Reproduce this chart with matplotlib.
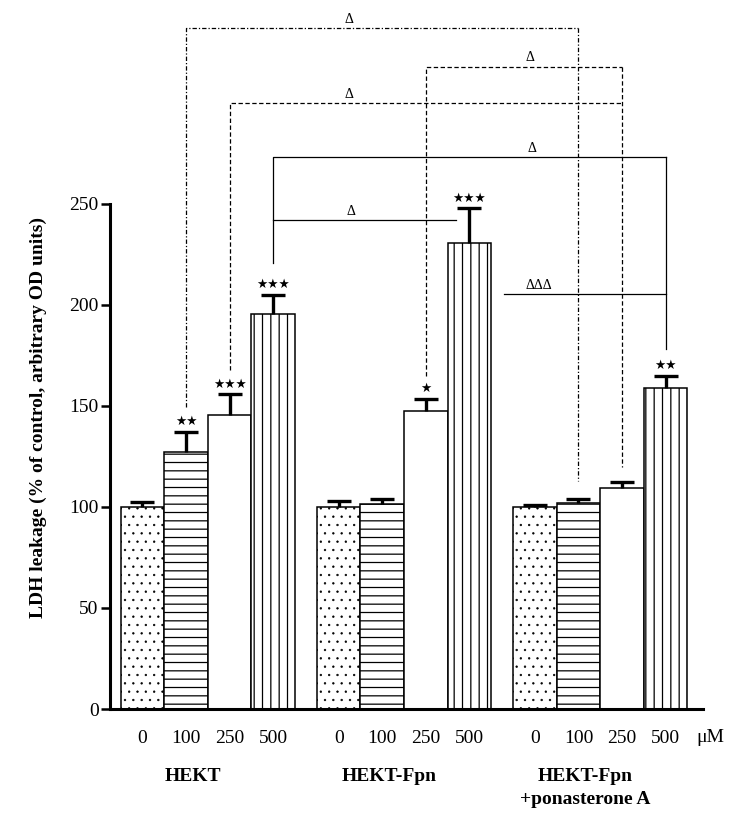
import numpy as np
import matplotlib
matplotlib.use("Agg")
import matplotlib.pyplot as plt

# --- data ---
groups = ["HEKT", "HEKT-Fpn", "HEKT-Fpn\n+ponasterone A"]
doses = ["0", "100", "250", "500"]
ldh_mean = [
    [100, 127.4, 145.7, 195.4],
    [100, 101.3, 147.5, 230.8],
    [100, 102.0, 109.5, 159.0],
]
ldh_sem = [
    [2.7, 9.7, 10.0, 9.7],
    [3.0, 2.8, 6.0, 17.0],
    [1.2, 2.0, 3.0, 6.0],
]
stars = [
    ["", "★★", "★★★", "★★★"],
    ["", "", "★", "★★★"],
    ["", "", "", "★★"],
]

# significance brackets: (left group, left dose), (right group, right dose),
# bracket height, bottom of left leg, bottom of right leg, label, label x
bracket_pairs = [((0, 1), (2, 1)), ((1, 2), (2, 2)), ((0, 2), (2, 2)), ((0, 3), (2, 3))]
bracket_top = [337, 318, 300, 273]
bracket_left_end = [149.5, 165, 168, 221]
bracket_right_end = [113, 120, None, 178]
bracket_labels = ["Δ", "Δ", "Δ", "Δ"]
bracket_label_x = [4.74, 8.89, 4.74, 8.93]
bracket_styles = [(0, (3.5, 1.6, 1.0, 1.6)), (0, (3.5, 2.0)), (0, (3.5, 2.0)), "-"]

# open-ended lines hanging off an existing leg
side_lines_x = [(3.0, 7.2), (8.3, 12.0)]
side_lines_y = [242, 205.4]
side_labels = ["Δ", "ΔΔΔ"]
side_label_x = [4.78, 9.09]

hatches = ["..", "--", "", "||"]
hatch_lw = [0.45, 0.9, 0.9, 0.9]
GROUP_STEP = 4.5

plt.rcParams['font.family'] = ['Liberation Serif', 'DejaVu Sans']


def bar_x(g, i):
    return g * GROUP_STEP + i


fig = plt.figure(figsize=(7.32, 8.21), dpi=100)
ax = fig.add_axes([0.1503, 0.1364, 0.8097, 0.849])

for g in range(len(groups)):
    for i in range(len(doses)):
        x = bar_x(g, i)
        with plt.rc_context({'hatch.linewidth': hatch_lw[i]}):
            ax.bar(x, ldh_mean[g][i], width=1.0, color="white", edgecolor="black",
                   linewidth=1.1, hatch=hatches[i], zorder=2)
    xs = [bar_x(g, i) for i in range(len(doses))]
    _, caps, _ = ax.errorbar(xs, ldh_mean[g], yerr=[np.zeros(4), ldh_sem[g]], fmt="none",
                             ecolor="black", elinewidth=2.4, capsize=8.5, capthick=2.4, zorder=3)
    caps[0].set_visible(False)
    for i in range(len(doses)):
        if stars[g][i]:
            ax.text(bar_x(g, i), ldh_mean[g][i] + ldh_sem[g][i] + 5, stars[g][i],
                    ha="center", va="center", fontsize=9, family="DejaVu Sans")

# brackets
for k, (left, right) in enumerate(bracket_pairs):
    xl, xr = bar_x(*left), bar_x(*right)
    ls = bracket_styles[k]
    ax.plot([xl, xl, xr], [bracket_left_end[k], bracket_top[k], bracket_top[k]],
            color="black", lw=0.9, linestyle=ls, clip_on=False)
    if bracket_right_end[k] is not None:
        ax.plot([xr, xr], [bracket_top[k], bracket_right_end[k]],
                color="black", lw=0.9, linestyle=ls, clip_on=False)
    ax.text(bracket_label_x[k], bracket_top[k] + 2.5, bracket_labels[k],
            ha="center", va="baseline", fontsize=10, clip_on=False)

for k, (x0, x1) in enumerate(side_lines_x):
    ax.plot([x0, x1], [side_lines_y[k]] * 2, color="black", lw=0.9, clip_on=False)
    ax.text(side_label_x[k], side_lines_y[k] + 2.5, side_labels[k],
            ha="center", va="baseline", fontsize=10, clip_on=False)

# axes
ax.set_xlim(-0.745, 12.85)
ax.set_ylim(0, 345)
ax.spines["top"].set_visible(False)
ax.spines["right"].set_visible(False)
ax.spines["left"].set_bounds(0, 250)
ax.spines["left"].set_linewidth(2.2)
ax.spines["bottom"].set_linewidth(2.2)
ax.set_yticks(np.arange(0, 251, 50))
ax.tick_params(axis="y", length=6.5, width=1.8, pad=1.7, labelsize=14)

tick_pos = [bar_x(g, i) for g in range(len(groups)) for i in range(len(doses))]
tick_lab = [d for g in range(len(groups)) for d in doses]
ax.set_xticks(tick_pos)
ax.set_xticklabels(tick_lab)
ax.tick_params(axis="x", length=0, pad=15, labelsize=14)
ax.text(13.02, -14.2, "μM", ha="center", va="center", fontsize=14, clip_on=False)

for g, name in enumerate(groups):
    ax.text(bar_x(g, 0) + 1.15, -29.2, name, ha="center", va="top", fontsize=14,
            fontweight="bold", linespacing=1.45, clip_on=False)

fig.text(38 / 732, 0.491, "LDH leakage (% of control, arbitrary OD units)",
         rotation=90, ha="center", va="center", fontsize=14, fontweight="bold")

fig.savefig("out.png", dpi=100)
